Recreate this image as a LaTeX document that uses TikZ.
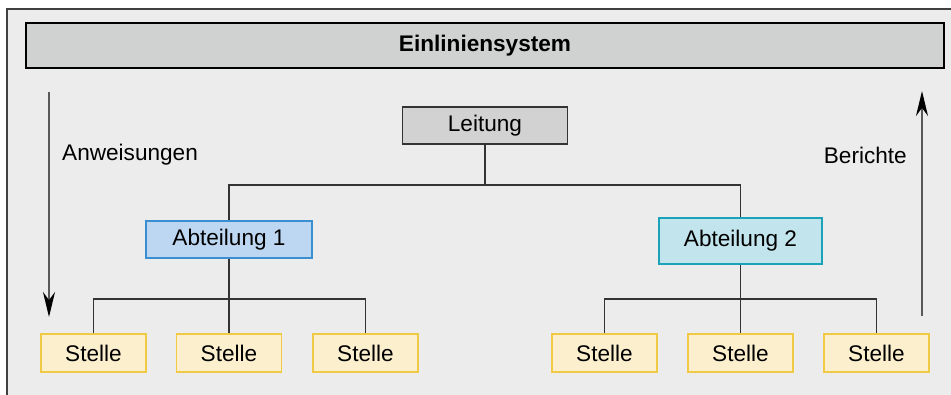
\documentclass[tikz,border=0pt]{standalone}
\usepackage{fontspec}
\setmainfont{Liberation Sans}
\usetikzlibrary{arrows.meta}

\definecolor{bgcol}{HTML}{ECECEC}
\definecolor{titlecol}{HTML}{D0D2D1}
\definecolor{leitcol}{HTML}{D2D2D2}
\definecolor{abteinsfill}{HTML}{BDD7F2}
\definecolor{abteinsdraw}{HTML}{3A8FD0}
\definecolor{abtzweifill}{HTML}{C2E4EC}
\definecolor{abtzweidraw}{HTML}{1AA3B8}
\definecolor{stellefill}{HTML}{FBEFCE}
\definecolor{stelledraw}{HTML}{F0C945}
\definecolor{linecol}{HTML}{333333}

\begin{document}
\begin{tikzpicture}[x=1pt, y=-1pt,
    every node/.style={font=\fontsize{22.6}{26}\selectfont, inner sep=0pt},
    box/.style={draw, line width=1.3pt, minimum height=37pt},
    stellebox/.style={box, fill=stellefill, draw=stelledraw, minimum width=105pt, minimum height=38pt},
    conn/.style={draw=linecol, line width=1.3pt},
    flow/.style={draw=black!65, line width=2pt, -{Stealth[length=25pt, width=12pt, black]}}]

\useasboundingbox (0,0) rectangle (951,395);
\clip (0,0) rectangle (951,395);

% frame and title
\draw [fill=bgcol, draw=black!75, line width=2.2pt] (7,9) rectangle (970,410);
\node (title) [box, fill=titlecol, draw=black, minimum width=918pt, minimum height=45pt,
    font=\fontsize{22.6}{26}\selectfont\bfseries] at (485,45.5) {Einliniensystem};

% hierarchy
\node (leitung) [box, fill=leitcol, draw=black!80] [minimum width=165pt] at (485,125.5) {Leitung};
\node (abt1) [box, fill=abteinsfill, draw=abteinsdraw, minimum width=166pt] at (229,239.5) {Abteilung 1};
\node (abt2) [box, fill=abtzweifill, draw=abtzweidraw, minimum width=163pt, minimum height=46pt] at (740.5,241) {Abteilung 2};

\foreach \i/\x in {1/93.5, 2/229, 3/365.5, 4/604.5, 5/740.5, 6/876.5}
    \node (s\i) [stellebox] at (\x,353) {Stelle};

\coordinate (b0) at (485,185);
\coordinate (b1) at (229,299);
\coordinate (b2) at (740.5,299);

\draw [conn] (leitung.south) -- (b0);
\draw [conn] (abt1.north) |- (b0) -| (abt2.north);
\draw [conn] (abt1.south) -- (s2.north);
\draw [conn] (s1.north) |- (b1) -| (s3.north);
\draw [conn] (abt2.south) -- (s5.north);
\draw [conn] (s4.north) |- (b2) -| (s6.north);

% flow arrows
\coordinate (a1) at (49,92);
\coordinate (a2) at (49,317);
\coordinate (a3) at (922,316);
\coordinate (a4) at (922,91);
\draw [flow] (a1) -- (a2);
\draw [flow] (a3) -- (a4);
\node (anw) [anchor=west] at (62,155) {Anweisungen};
\node (ber) [anchor=east] at (907,155) {Berichte};

\end{tikzpicture}
\end{document}
